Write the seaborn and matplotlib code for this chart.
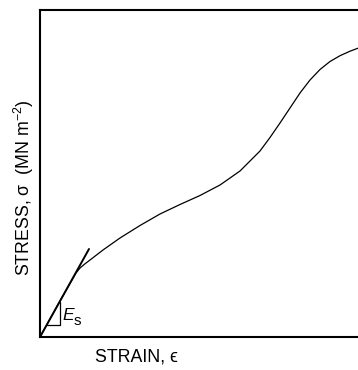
import matplotlib
matplotlib.use("Agg")
import matplotlib.pyplot as plt
import seaborn as sns
import pandas as pd

# Stress-strain curve (arbitrary units)
strain = [0.00, 0.20, 0.36, 0.40, 0.45, 0.50, 0.63, 0.80, 1.00, 1.20, 1.40,
          1.60, 1.80, 2.00, 2.20, 2.30, 2.40, 2.50, 2.60, 2.70, 2.80, 2.90,
          3.00, 3.10, 3.18]
stress = [0.000, 0.360, 0.640, 0.690, 0.732, 0.770, 0.870, 0.990, 1.115,
          1.230, 1.325, 1.415, 1.520, 1.660, 1.860, 1.995, 2.140, 2.290,
          2.440, 2.570, 2.675, 2.755, 2.813, 2.858, 2.888]

# Initial tangent (secant modulus E_s) line
tangent_strain = [0.00, 0.49]
tangent_stress = [0.00, 0.88]

# Small slope triangle
tri_strain = [0.07, 0.20, 0.20]
tri_stress = [0.12, 0.12, 0.35]

x_label = "STRAIN, \u03f5"
y_label = "STRESS, \u03c3  (MN m$^{-2}$)"
mod_main = "E"
mod_sub = "s"

sns.set_theme(style="white")
plt.rcParams["font.family"] = ["Liberation Sans", "DejaVu Sans"]
plt.rcParams["mathtext.fontset"] = "custom"
plt.rcParams["mathtext.rm"] = "Liberation Sans"
plt.rcParams["mathtext.it"] = "Liberation Sans:italic"
plt.rcParams["mathtext.bf"] = "Liberation Sans:bold"

fig = plt.figure(figsize=(3.58, 3.70), dpi=100)
ax = fig.add_axes([40 / 358, 1 - 337 / 370, 318 / 358, 327 / 370])

curve = pd.DataFrame({"strain": strain, "stress": stress})
tan = pd.DataFrame({"strain": tangent_strain, "stress": tangent_stress})
tri = pd.DataFrame({"strain": tri_strain, "stress": tri_stress})

sns.lineplot(data=curve, x="strain", y="stress", ax=ax, color="black",
             lw=0.9, estimator=None, sort=False,
             solid_joinstyle="round", solid_capstyle="round")
sns.lineplot(data=tan, x="strain", y="stress", ax=ax, color="black",
             lw=1.4, estimator=None, sort=False)
sns.lineplot(data=tri, x="strain", y="stress", ax=ax, color="black",
             lw=0.9, estimator=None, sort=False)

ax.set_xlim(0, 3.18)
ax.set_ylim(0, 3.27)
ax.set_xticks([])
ax.set_yticks([])

for side in ["left", "top", "bottom"]:
    ax.spines[side].set_visible(True)
    ax.spines[side].set_color("black")
    ax.spines[side].set_linewidth(1.5)
ax.spines["right"].set_visible(False)

ax.text(0.22, 0.17, mod_main, fontsize=12.5, style="italic", ha="left",
        va="baseline", color="black")
ax.annotate(mod_sub, xy=(0.22, 0.17), xytext=(8.6, -3.6),
            textcoords="offset points", fontsize=11, ha="left",
            va="baseline", color="black")

ax.set_xlabel(x_label, fontsize=12.8, color="black")
ax.xaxis.set_label_coords(0.303, -0.035)
ax.xaxis.label.set_va("top")

ax.set_ylabel(y_label, fontsize=12.8, color="black")
ax.yaxis.set_label_coords(-0.013, 0.456)

fig.savefig("out.png", dpi=100)
